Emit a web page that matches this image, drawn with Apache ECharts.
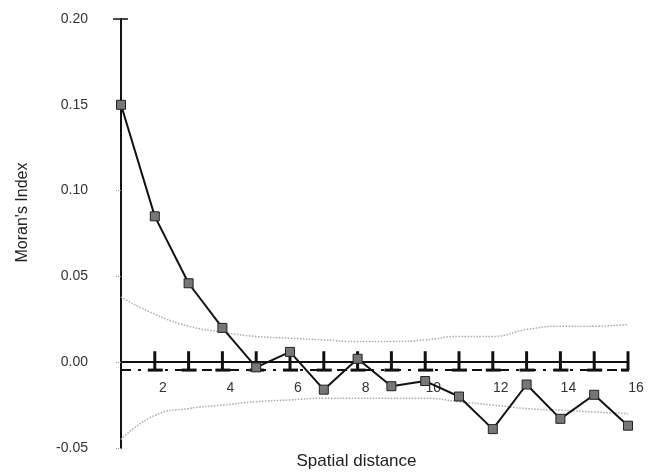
<!DOCTYPE html>
<html>
<head>
<meta charset="utf-8">
<script src="https://cdn.jsdelivr.net/npm/echarts@6/dist/echarts.min.js"></script>
<style>
  html, body { margin: 0; padding: 0; background: #fff; }
  #chart { width: 659px; height: 472px; }
</style>
</head>
<body>
<div id="chart"></div>
<script>
// lag classes (spatial distance)
var lags = [1, 2, 3, 4, 5, 6, 7, 8, 9, 10, 11, 12, 13, 14, 15, 16];
// observed Moran's I per lag
var moranI = [0.150, 0.085, 0.046, 0.020, -0.003, 0.006, -0.016, 0.002,
              -0.014, -0.011, -0.020, -0.039, -0.013, -0.033, -0.019, -0.037];
// confidence envelope
var upperEnv = [0.038, 0.028, 0.021, 0.0175, 0.015, 0.014, 0.013, 0.012,
                0.012, 0.013, 0.015, 0.015, 0.019, 0.021, 0.021, 0.022];
var lowerEnv = [-0.045, -0.031, -0.027, -0.025, -0.023, -0.022, -0.021, -0.021,
                -0.021, -0.021, -0.023, -0.025, -0.027, -0.028, -0.029, -0.030];
var expectedI = -0.0046;   // expected value under no autocorrelation
var markTop = 0.0064;      // top of the small bars on the zero line
var yTicks = [-0.05, 0.00, 0.05, 0.10, 0.15, 0.20];
var xLabels = [2, 4, 6, 8, 10, 12, 14, 16];

var chart = echarts.init(document.getElementById('chart'));
var font = 'Liberation Sans, Arial, sans-serif';

var pair = function (ys) {
  return lags.map(function (x, i) { return [x, ys[i]]; });
};

// x axis sits on the zero line: shift it up from the grid bottom
var gridTop = 19, gridBottom = 24;
var plotH = 472 - gridTop - gridBottom;
var yMin = yTicks[0], yMax = yTicks[yTicks.length - 1];
var zeroShift = -Math.round(plotH * (0 - yMin) / (yMax - yMin));

var option = {
  animation: false,
  grid: { left: 121, right: 31, top: gridTop, bottom: gridBottom, containLabel: false, outerBoundsMode: 'none' },
  xAxis: {
    type: 'value',
    min: 1,
    max: 16,
    interval: 1,
    offset: zeroShift,
    name: 'Spatial distance',
    nameLocation: 'middle',
    nameGap: 91,
    nameTextStyle: { fontFamily: font, fontSize: 17, color: '#222', padding: [0, 36, 0, 0] },
    axisLine: { onZero: false, lineStyle: { color: '#111', width: 2 } },
    axisTick: { show: false },
    splitLine: { show: false },
    axisLabel: {
      fontFamily: font,
      fontSize: 14,
      color: '#333',
      margin: 19,
      padding: [0, 0, 0, 16],
      formatter: function (v) { return xLabels.indexOf(v) >= 0 ? String(v) : ''; }
    }
  },
  yAxis: {
    type: 'value',
    min: yMin,
    max: yMax,
    interval: 0.05,
    name: "Moran's Index",
    nameLocation: 'middle',
    nameGap: 90,
    nameTextStyle: { fontFamily: font, fontSize: 16, color: '#222', padding: [0, 0, 0, 42] },
    axisLine: { show: true, onZero: false, lineStyle: { color: '#111', width: 2 } },
    axisTick: { show: true, length: 6, lineStyle: { color: '#999', type: 'dotted' } },
    splitLine: { show: false },
    axisLabel: {
      fontFamily: font,
      fontSize: 14,
      color: '#333',
      margin: 33,
      formatter: function (v) { return v.toFixed(2); }
    }
  },
  series: [
    {
      name: 'upper',
      type: 'line',
      data: pair(upperEnv),
      smooth: true,
      symbol: 'none',
      silent: true,
      lineStyle: { color: '#aaa', width: 1.5, type: 'dotted' }
    },
    {
      name: 'lower',
      type: 'line',
      data: pair(lowerEnv),
      smooth: true,
      symbol: 'none',
      silent: true,
      lineStyle: { color: '#aaa', width: 1.5, type: 'dotted' }
    },
    {
      name: 'expected',
      type: 'line',
      data: lags.map(function (x) { return [x, expectedI]; }),
      symbol: 'none',
      silent: true,
      lineStyle: { color: '#111', width: 2, type: [10, 7, 3, 7] }
    },
    {
      name: 'marks',
      type: 'custom',
      silent: true,
      clip: false,
      data: lags.slice(1).map(function (x) { return [x]; }),
      renderItem: function (params, api) {
        var x = api.value(0);
        var top = api.coord([x, markTop]);
        var bot = api.coord([x, expectedI]);
        var right = x === lags[lags.length - 1] ? 1 : 8;
        return {
          type: 'group',
          children: [
            { type: 'line', shape: { x1: top[0], y1: top[1], x2: bot[0], y2: bot[1] },
              style: { stroke: '#111', lineWidth: 3 } },
            { type: 'line', shape: { x1: bot[0] - 7, y1: bot[1], x2: bot[0] + right, y2: bot[1] },
              style: { stroke: '#111', lineWidth: 3 } }
          ]
        };
      }
    },
    {
      name: 'cap',
      type: 'custom',
      silent: true,
      clip: false,
      data: [[lags[0], yMax]],
      renderItem: function (params, api) {
        var p = api.coord([api.value(0), api.value(1)]);
        return { type: 'line', shape: { x1: p[0] - 8, y1: p[1], x2: p[0] + 7, y2: p[1] },
                 style: { stroke: '#111', lineWidth: 1.5 } };
      }
    },
    {
      name: "Moran's I",
      type: 'line',
      data: pair(moranI),
      symbol: 'rect',
      symbolSize: 9,
      z: 5,
      lineStyle: { color: '#111', width: 2 },
      itemStyle: { color: '#777', borderColor: '#222', borderWidth: 1 }
    }
  ]
};

chart.setOption(option);
</script>
</body>
</html>
